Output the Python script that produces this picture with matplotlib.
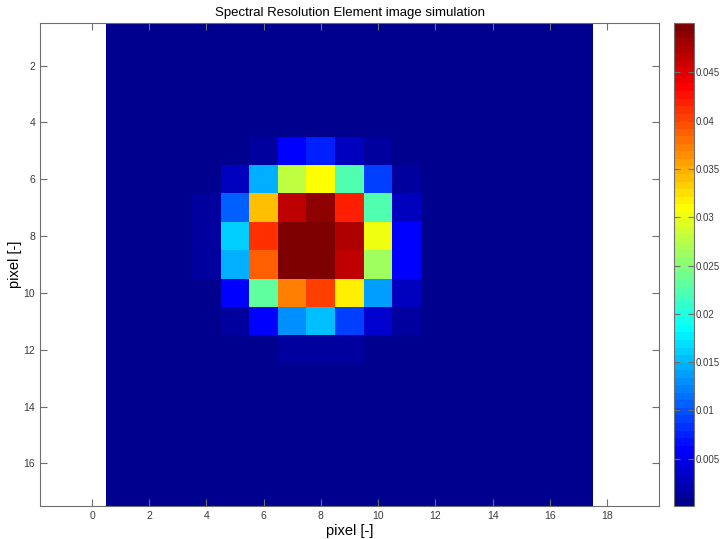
import numpy as np
import matplotlib
matplotlib.use('Agg')
import matplotlib.pyplot as plt
from matplotlib.colors import ListedColormap
from matplotlib.ticker import FuncFormatter

plt.rcParams['font.family'] = ['Liberation Sans', 'DejaVu Sans']

# image is 17x17 pixels, background level everywhere except the spot
n_pix = 17
background = 0.0001
# spot values, rows 4..12 and columns 4..12 (1-based, MATLAB style)
spot_row0 = 4
spot_col0 = 4
spot = [
    [0.0002, 0.0002, 0.0004, 0.0006, 0.0006, 0.0005, 0.0003, 0.0002, 0.0002],
    [0.0003, 0.0008, 0.0015, 0.0062, 0.0072, 0.0030, 0.0013, 0.0005, 0.0002],
    [0.0006, 0.0025, 0.0145, 0.0280, 0.0312, 0.0225, 0.0087, 0.0013, 0.0004],
    [0.0012, 0.0106, 0.0337, 0.0462, 0.0487, 0.0419, 0.0225, 0.0030, 0.0006],
    [0.0013, 0.0162, 0.0412, 0.0498, 0.0501, 0.0475, 0.0300, 0.0056, 0.0008],
    [0.0013, 0.0144, 0.0387, 0.0494, 0.0499, 0.0462, 0.0260, 0.0056, 0.0008],
    [0.0006, 0.0062, 0.0231, 0.0375, 0.0406, 0.0319, 0.0137, 0.0025, 0.0005],
    [0.0003, 0.0013, 0.0056, 0.0130, 0.0150, 0.0094, 0.0037, 0.0012, 0.0003],
    [0.0002, 0.0004, 0.0007, 0.0013, 0.0013, 0.0010, 0.0005, 0.0002, 0.0001],
]
x_ticks = list(range(0, 19, 2))
y_ticks = list(range(2, 17, 2))
cbar_ticks = [0.005, 0.01, 0.015, 0.02, 0.025, 0.03, 0.035, 0.04, 0.045]


def matlab_jet(m=64):
    # same recipe as MATLAB's jet(m)
    n = int(np.ceil(m / 4))
    u = np.concatenate([np.arange(1, n + 1) / n, np.ones(n - 1), np.arange(n, 0, -1) / n])
    g = int(np.ceil(n / 2)) - (1 if m % 4 == 1 else 0) + np.arange(1, len(u) + 1)
    r = g + n
    b = g - n
    J = np.zeros((m, 3))
    J[r[r <= m] - 1, 0] = u[r <= m]
    J[g[g <= m] - 1, 1] = u[g <= m]
    J[b[b >= 1] - 1, 2] = u[b >= 1]
    return ListedColormap(J)


img = np.full((n_pix, n_pix), background)
sp = np.array(spot)
img[spot_row0 - 1:spot_row0 - 1 + sp.shape[0], spot_col0 - 1:spot_col0 - 1 + sp.shape[1]] = sp

edge = '#6e6e6e'
txt = '#3a3a3a'

fig = plt.figure(figsize=(7.21, 5.39), dpi=100)
ax = fig.add_axes([0.0555, 0.0612, 0.8585, 0.896])
cax = fig.add_axes([0.935, 0.0612, 0.0277, 0.896])

im = ax.imshow(img, cmap=matlab_jet(64), vmin=img.min(), vmax=img.max(),
               extent=(0.5, n_pix + 0.5, n_pix + 0.5, 0.5), aspect='auto',
               interpolation='nearest')
ax.set_xlim(-1.82, 19.82)
ax.set_ylim(n_pix + 0.5, 0.5)
ax.set_xticks(x_ticks)
ax.set_yticks(y_ticks)
ax.tick_params(direction='in', top=True, right=True, length=5, width=0.8,
               colors=edge, labelcolor=txt, labelsize=7.5)
for s in ax.spines.values():
    s.set_color(edge)
    s.set_linewidth(0.8)
ax.set_title('Spectral Resolution Element image simulation', fontsize=9.5, pad=5)
ax.set_xlabel('pixel [-]', fontsize=10.5, labelpad=2)
ax.set_ylabel('pixel [-]', fontsize=10.5, labelpad=1)

cb = fig.colorbar(im, cax=cax, ticks=cbar_ticks)
cb.ax.yaxis.set_major_formatter(FuncFormatter(lambda v, p: '%g' % v))
cb.ax.tick_params(direction='in', left=True, right=True, length=4, width=0.8,
                  colors=edge, labelcolor=txt, labelsize=7, pad=1)
cb.outline.set_edgecolor(edge)
cb.outline.set_linewidth(0.8)

fig.savefig('out.png', dpi=100)
